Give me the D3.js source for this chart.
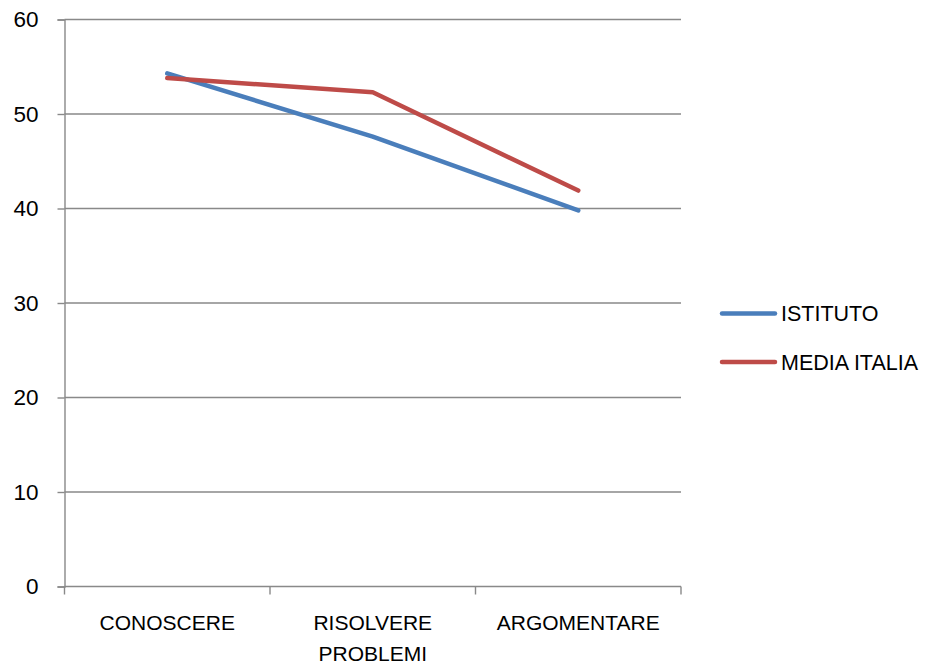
<!DOCTYPE html>
<html><head><meta charset="utf-8">
<script src="https://cdn.jsdelivr.net/npm/d3@7"></script>
<style>body{margin:0;background:#fff}svg{display:block}text{font-family:"Liberation Sans",Arial,sans-serif;fill:#000}</style>
</head><body><svg id="c" width="931" height="664"></svg>
<script>
const categories = ["CONOSCERE", "RISOLVERE\nPROBLEMI", "ARGOMENTARE"];
const istituto = [54.3, 47.6, 39.8];
const mediaItalia = [53.8, 52.3, 41.9];
const seriesNames = ["ISTITUTO", "MEDIA ITALIA"];
const seriesColors = ["#4A7EBB", "#BE4B48"];
const yTicks = [0, 10, 20, 30, 40, 50, 60];

(function () {
const svg = d3.select("#c");
const pLeft = 64.5, pRight = 681, pTop = 19.5, pBottom = 586.5;
const x = d3.scaleBand().domain(categories).range([pLeft, pRight]).paddingInner(0).paddingOuter(0);
const y = d3.scaleLinear().domain([0, 60]).range([pBottom, pTop]);
const gray = "#898989";

// gridlines
svg.append("g").selectAll("line").data(yTicks.filter(d => d > 0)).join("line")
  .attr("x1", pLeft).attr("x2", pRight)
  .attr("y1", d => y(d)).attr("y2", d => y(d))
  .attr("stroke", gray).attr("stroke-width", 1.4);

// y axis
const yAxis = svg.append("g").attr("transform", `translate(${pLeft},0)`)
  .call(d3.axisLeft(y).tickValues(yTicks).tickSize(7).tickPadding(19));
yAxis.select(".domain").attr("stroke", gray).attr("stroke-width", 1.4);
yAxis.selectAll(".tick line").attr("stroke", gray).attr("stroke-width", 1.4);
yAxis.selectAll(".tick text").attr("font-size", 22.5).attr("font-family", '"Liberation Sans",Arial,sans-serif').attr("fill", "#000");

// x axis
const xAxis = svg.append("g").attr("transform", `translate(0,${pBottom})`);
xAxis.append("line").attr("x1", pLeft).attr("x2", pRight).attr("y1", 0).attr("y2", 0)
  .attr("stroke", gray).attr("stroke-width", 1.4);
const boundaries = categories.map(c => x(c)).concat([x(categories[categories.length - 1]) + x.bandwidth()]);
xAxis.selectAll("line.tk").data(boundaries).join("line").attr("class", "tk")
  .attr("x1", d => d).attr("x2", d => d).attr("y1", 0).attr("y2", 8)
  .attr("stroke", gray).attr("stroke-width", 1.4);
xAxis.selectAll("text").data(categories).join("text")
  .attr("text-anchor", "middle").attr("font-size", 21)
  .attr("transform", d => `translate(${x(d) + x.bandwidth() / 2},43)`)
  .each(function (d) {
    const t = d3.select(this);
    d.split("\n").forEach((s, i) => t.append("tspan").attr("x", 0).attr("dy", i === 0 ? 0 : 31).text(s));
  });

// lines
const series = [istituto, mediaItalia];
const line = d3.line().x((d, i) => x(categories[i]) + x.bandwidth() / 2).y(d => y(d));
svg.append("g").selectAll("path").data(series).join("path")
  .attr("d", d => line(d)).attr("fill", "none")
  .attr("stroke", (d, i) => seriesColors[i]).attr("stroke-width", 4.5)
  .attr("stroke-linecap", "round").attr("stroke-linejoin", "round");

// legend
const lg = svg.append("g");
const legY = [313.5, 362];
seriesNames.forEach((n, i) => {
  lg.append("line").attr("x1", 722).attr("x2", 775).attr("y1", legY[i]).attr("y2", legY[i])
    .attr("stroke", seriesColors[i]).attr("stroke-width", 4.5).attr("stroke-linecap", "round");
  lg.append("text").attr("x", 781).attr("y", legY[i]).attr("dy", "0.36em")
    .attr("font-size", 21.5).text(n);
});
})();
</script></body></html>
